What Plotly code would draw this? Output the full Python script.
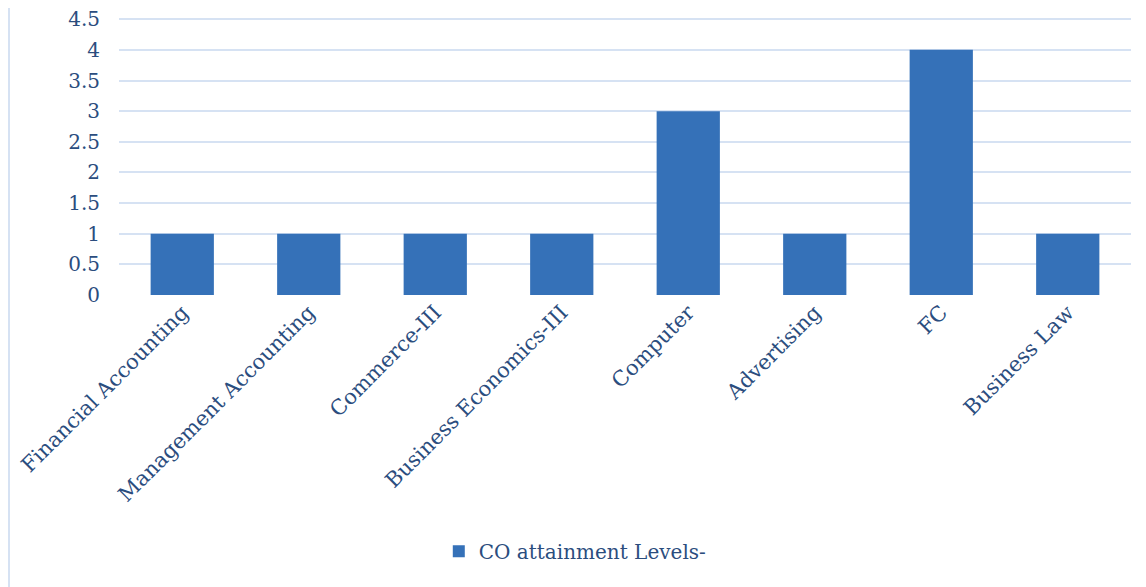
import plotly.graph_objects as go

categories = ["Financial Accounting", "Management Accounting", "Commerce-III",
              "Business Economics-III", "Computer", "Advertising", "FC", "Business Law"]
values = [1, 1, 1, 1, 3, 1, 4, 1]
series_name = "CO attainment Levels-"
y_ticks = [0, 0.5, 1, 1.5, 2, 2.5, 3, 3.5, 4, 4.5]
y_tick_labels = ["0", "0.5", "1", "1.5", "2", "2.5", "3", "3.5", "4", "4.5"]

text_color = "#2B4D7E"
font_family = "DejaVu Serif"

fig = go.Figure()
fig.add_trace(go.Bar(
    x=categories, y=values, name=series_name,
    marker=dict(color="#3571B8", line=dict(width=0)),
    width=0.5,
))

fig.update_layout(
    width=1146, height=587,
    margin=dict(l=111, r=23, t=10, b=300, autoexpand=False),
    paper_bgcolor="white", plot_bgcolor="white",
    font=dict(family=font_family, size=20, color=text_color),
    showlegend=True,
    legend=dict(orientation="h", x=0.316, xanchor="left", y=-0.925, yanchor="middle",
                font=dict(size=20, color=text_color), itemwidth=30),
    xaxis=dict(tickangle=-45, showgrid=False, showline=False, ticks="", automargin=False,
               ticklabeloverflow="allow",
               tickfont=dict(size=21, color=text_color)),
    yaxis=dict(range=[0, 4.52], tickvals=y_ticks, ticktext=y_tick_labels,
               showgrid=True, gridcolor="#D6E2F3", gridwidth=2, automargin=False,
               zeroline=False, showline=False, ticks="", ticklabelstandoff=18,
               ticklabeloverflow="allow",
               tickfont=dict(size=20, color=text_color)),
    shapes=[dict(type="line", xref="paper", yref="paper",
                 x0=-0.1087, x1=-0.1087, y0=-1.1, y1=1.1,
                 line=dict(color="#D6E2F3", width=2))],
)

fig.write_html("out.html")
